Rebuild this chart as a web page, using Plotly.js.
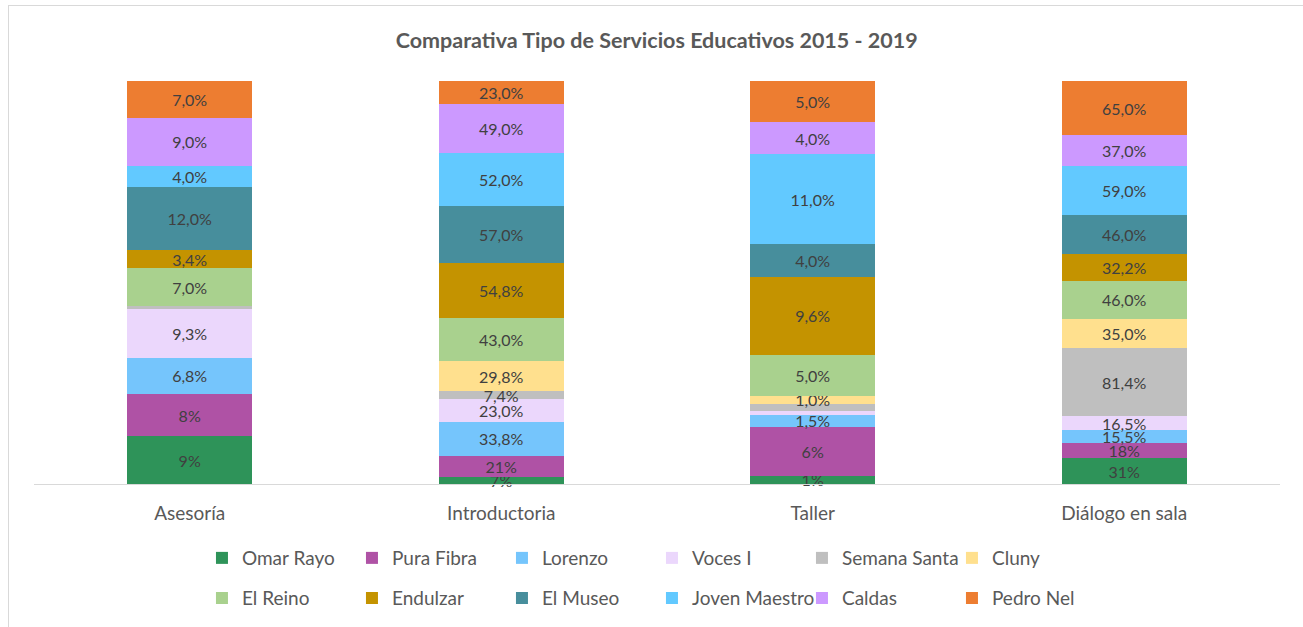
<!DOCTYPE html>
<html>
<head>
<meta charset="utf-8">
<script src="https://cdn.plot.ly/plotly-3.0.1.min.js"></script>
<style>
  html, body { margin: 0; padding: 0; background: #fff; }
  #wrap { position: relative; width: 1303px; height: 627px; }
  #chart { width: 1303px; height: 627px; }
  #frame { position: absolute; left: 8px; top: 5px; width: 1300px; height: 630px;
           border-top: 1px solid #d9d9d9; border-left: 1px solid #d9d9d9; pointer-events: none; }
</style>
</head>
<body>
<div id="wrap"><div id="chart"></div><div id="frame"></div></div>
<script>
// ---- Data ----
const categories = ["Asesoría", "Introductoria", "Taller", "Diálogo en sala"];

const omarRayo     = [9, 7, 1, 31];
const puraFibra    = [8, 21, 6, 18];
const lorenzo      = [6.8, 33.8, 1.5, 15.5];
const vocesI       = [9.3, 23.0, 0.4, 16.5];
const semanaSanta  = [0.6, 7.4, 0.9, 81.4];
const cluny        = [0, 29.8, 1.0, 35.0];
const elReino      = [7.0, 43.0, 5.0, 46.0];
const endulzar     = [3.4, 54.8, 9.6, 32.2];
const elMuseo      = [12.0, 57.0, 4.0, 46.0];
const jovenMaestro = [4.0, 52.0, 11.0, 59.0];
const caldas       = [9.0, 49.0, 4.0, 37.0];
const pedroNel     = [7.0, 23.0, 5.0, 65.0];

const seriesNames = ["Omar Rayo", "Pura Fibra", "Lorenzo", "Voces I", "Semana Santa", "Cluny",
                     "El Reino", "Endulzar", "El Museo", "Joven Maestro", "Caldas", "Pedro Nel"];
const seriesValues = [omarRayo, puraFibra, lorenzo, vocesI, semanaSanta, cluny,
                      elReino, endulzar, elMuseo, jovenMaestro, caldas, pedroNel];
const seriesDecimals = [0, 0, 1, 1, 1, 1, 1, 1, 1, 1, 1, 1];

// ---- Styles ----
const colors = ["#2E9359", "#AF52A5", "#75C5FC", "#EBD7FC", "#BFBFBF", "#FFE08E",
                "#A9D18E", "#C49300", "#478E9C", "#62C9FF", "#CC99FF", "#ED7D31"];
const FONT = "Lato, 'Open Sans', sans-serif";

function fmt(v, d) {
  if (v < 1) return "";
  return v.toFixed(d).replace(".", ",") + "%";
}

const traces = seriesNames.map((name, i) => ({
  type: "bar",
  name: name,
  x: categories,
  y: seriesValues[i],
  text: seriesValues[i].map(v => fmt(v, seriesDecimals[i])),
  textposition: "inside",
  insidetextanchor: "middle",
  textangle: 0,
  constraintext: "none",
  cliponaxis: false,
  textfont: { family: FONT, size: 16, color: "#404040" },
  marker: { color: colors[i], line: { width: 0 } },
  legend: i < 6 ? "legend" : "legend2",
  hovertemplate: name + ": %{y}<extra></extra>"
}));

const legendCommon = {
  orientation: "h",
  xref: "container", yref: "container",
  x: 0.155, xanchor: "left", yanchor: "middle",
  font: { family: FONT, size: 19, color: "#595959" },
  entrywidth: 105,
  traceorder: "normal",
  bgcolor: "rgba(0,0,0,0)"
};

const layout = {
  width: 1303, height: 627,
  margin: { l: 34, r: 23, t: 81, b: 143 },
  paper_bgcolor: "#fff", plot_bgcolor: "#fff",
  barmode: "stack",
  barnorm: "percent",
  bargap: 0.6,
  title: {
    text: "<b>Comparativa Tipo de Servicios Educativos 2015 - 2019</b>",
    font: { family: FONT, size: 21.5, color: "#595959" },
    x: 0.504, xanchor: "center", y: 0.936, yanchor: "middle"
  },
  xaxis: {
    showline: true, linecolor: "#d9d9d9", linewidth: 1,
    ticks: "", showgrid: false, zeroline: false,
    tickfont: { family: FONT, size: 19, color: "#595959" },
    ticklabelstandoff: 12
  },
  yaxis: { visible: false, range: [0, 100], showgrid: false, zeroline: false },
  uniformtext: { mode: "show", minsize: 16 },
  legend: Object.assign({}, legendCommon, { y: 0.110 }),
  legend2: Object.assign({}, legendCommon, { y: 0.046 }),
  showlegend: true
};

Plotly.newPlot("chart", traces, layout, { displayModeBar: false, responsive: false });
</script>
</body>
</html>
